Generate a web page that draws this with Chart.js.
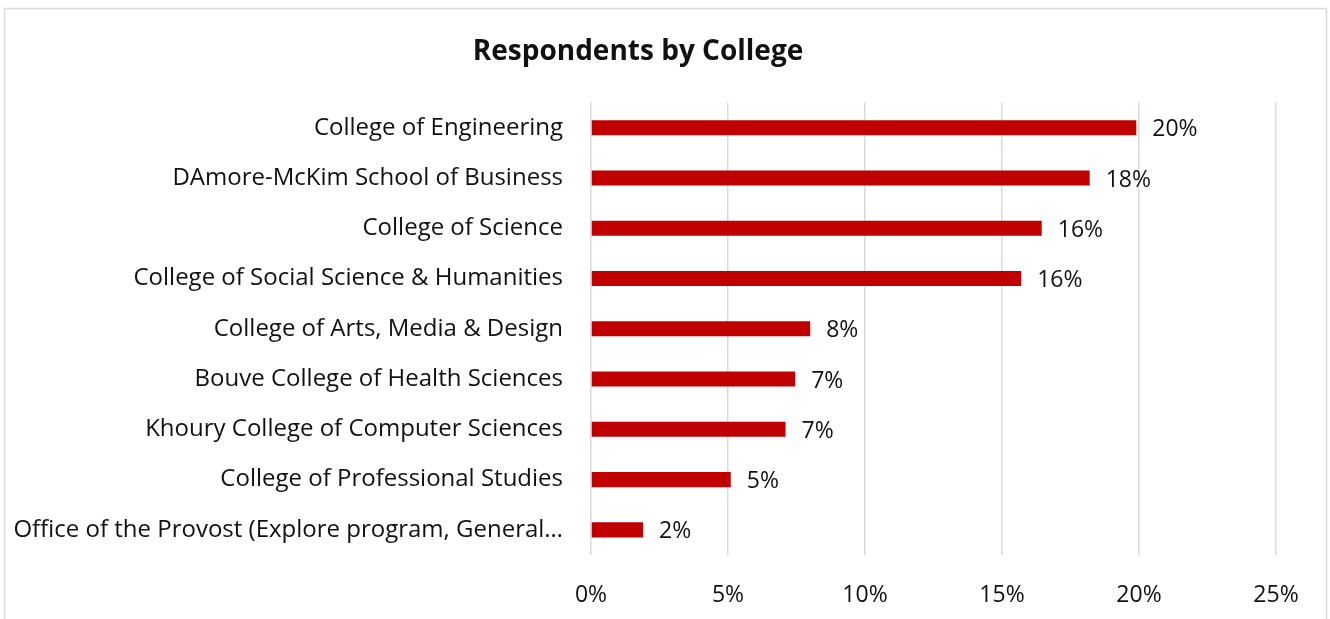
<!DOCTYPE html>
<html>
<head>
<meta charset="utf-8">
<script src="https://cdn.jsdelivr.net/npm/chart.js@4"></script>
<style>
html,body{margin:0;padding:0;background:#fff;}
canvas{display:block;}
</style>
</head>
<body>
<canvas id="c" width="1330" height="619"></canvas>
<script>
const categories = [
  "College of Engineering",
  "DAmore-McKim School of Business",
  "College of Science",
  "College of Social Science & Humanities",
  "College of Arts, Media & Design",
  "Bouve College of Health Sciences",
  "Khoury College of Computer Sciences",
  "College of Professional Studies",
  "Office of the Provost (Explore program, General…"
];
const respondentsPct = [19.9, 18.2, 16.45, 15.7, 8.0, 7.45, 7.1, 5.1, 1.9];
const xTickValues = [0, 5, 10, 15, 20, 25];
const chartTitle = "Respondents by College";

const FONT = "'Open Sans'";

const framePlugin = {
  id: 'frame',
  beforeDraw(chart) {
    const ctx = chart.ctx;
    ctx.save();
    ctx.fillStyle = '#fff';
    ctx.fillRect(0, 0, chart.width, chart.height);
    ctx.strokeStyle = '#d9d9d9';
    ctx.lineWidth = 1.5;
    ctx.strokeRect(4.5, 8.5, 1322, 700);
    ctx.restore();
  }
};

const valueLabels = {
  id: 'valueLabels',
  afterDatasetsDraw(chart) {
    const ctx = chart.ctx;
    const meta = chart.getDatasetMeta(0);
    ctx.save();
    ctx.font = "23px " + FONT;
    ctx.fillStyle = '#111';
    ctx.textAlign = 'left';
    ctx.textBaseline = 'middle';
    meta.data.forEach((bar, i) => {
      const v = chart.data.datasets[0].data[i];
      ctx.fillText(Math.round(v) + '%', bar.x + 16, bar.y + 2);
    });
    ctx.restore();
  }
};

new Chart(document.getElementById('c'), {
  type: 'bar',
  data: {
    labels: categories,
    datasets: [{
      data: respondentsPct,
      backgroundColor: '#C00000',
      borderWidth: 0,
      categoryPercentage: 1.0,
      barPercentage: 0.3
    }]
  },
  options: {
    indexAxis: 'y',
    responsive: false,
    animation: false,
    devicePixelRatio: 1,
    layout: { padding: { left: 0, right: 54, top: 0, bottom: 0 } },
    plugins: {
      legend: { display: false },
      tooltip: { enabled: false },
      title: {
        display: true,
        text: chartTitle,
        color: '#111',
        font: { family: FONT, size: 28, weight: 'bold' },
        padding: { top: 35, bottom: 34 }
      }
    },
    scales: {
      x: {
        min: 0,
        max: 25,
        afterBuildTicks(scale) { scale.ticks = xTickValues.map(v => ({ value: v })); },
        afterFit(scale) { scale.height = 64; },
        grid: { color: '#d9d9d9', lineWidth: 1.5, drawTicks: false },
        border: { display: false },
        ticks: {
          callback: v => v + '%',
          color: '#111',
          font: { family: FONT, size: 23 },
          padding: 27,
          maxRotation: 0
        }
      },
      y: {
        afterFit(scale) { scale.width = 591; },
        grid: { display: false, drawTicks: false },
        border: { display: false },
        ticks: {
          color: '#111',
          font: { family: FONT, size: 24 },
          padding: 28,
          autoSkip: false
        }
      }
    }
  },
  plugins: [framePlugin, valueLabels]
});
</script>
</body>
</html>
